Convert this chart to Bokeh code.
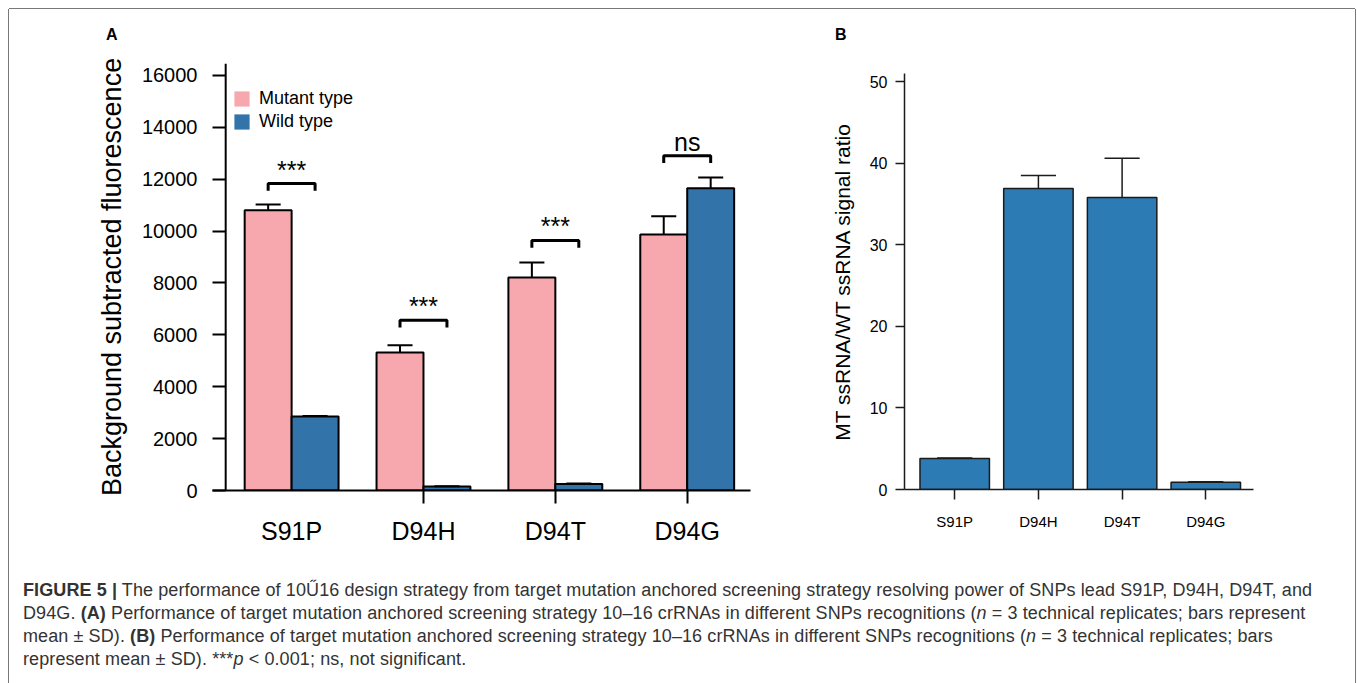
import numpy as np
from bokeh.plotting import figure
from bokeh.models import (Span, LinearAxis, FixedTicker, Range1d, Legend,
                          LegendItem, Div, ColumnDataSource, Spacer)
from bokeh.layouts import row, column
from bokeh.embed import file_html
from bokeh.resources import INLINE
from bokeh.core.properties import value

# ---------------- data ----------------
snps = ["S91P", "D94H", "D94T", "D94G"]
mutant_mean = [10800, 5320, 8210, 9870]
mutant_sd = [220, 280, 580, 700]
wild_mean = [2850, 150, 250, 11650]
wild_sd = [20, 15, 20, 420]
sig_labels = ["***", "***", "***", "ns"]
bracket_y = [11830, 6560, 9640, 12900]
a_yticks = [0, 2000, 4000, 6000, 8000, 10000, 12000, 14000, 16000]

ratio_mean = [3.8, 36.9, 35.8, 0.9]
ratio_sd = [0.06, 1.6, 4.8, 0.06]
b_yticks = [0, 10, 20, 30, 40, 50]

# ---------------- style ----------------
FONT = "Liberation Sans"
PINK = "#F6A8AE"
BLUE_A = "#3274A9"
BLUE_B = "#2C7BB5"

idx = np.arange(len(snps))
bw = 0.356
cap_a = 0.19
x_mt = idx - bw / 2
x_wt = idx + bw / 2

# ---------------- panel A ----------------
pA = figure(width=782, height=521, min_border_left=203, min_border_right=41,
            min_border_top=14, min_border_bottom=80, x_range=Range1d(-0.6, 3.48),
            y_range=Range1d(0, 16460), output_backend="svg", toolbar_location=None)
pA.xgrid.visible = False
pA.ygrid.visible = False
pA.outline_line_color = None

mt_hi = np.add(mutant_mean, mutant_sd)
wt_hi = np.add(wild_mean, wild_sd)
srcA = ColumnDataSource(dict(x_mt=x_mt, x_wt=x_wt, mt=mutant_mean, wt=wild_mean,
                             mt_hi=mt_hi, wt_hi=wt_hi,
                             mt_c0=x_mt - cap_a / 2, mt_c1=x_mt + cap_a / 2,
                             wt_c0=x_wt - cap_a / 2, wt_c1=x_wt + cap_a / 2))

# fill-only copies (legend swatches, hidden under the outlined bars)
r_mt = pA.vbar(x="x_mt", top="mt", bottom=0, width=bw, fill_color=PINK, line_color=None,
               source=srcA)
r_wt = pA.vbar(x="x_wt", top="wt", bottom=0, width=bw, fill_color=BLUE_A, line_color=None,
               source=srcA)
pA.vbar(x="x_mt", top="mt", bottom=0, width=bw, fill_color=PINK, line_color="black",
        line_width=2, source=srcA)
pA.vbar(x="x_wt", top="wt", bottom=0, width=bw, fill_color=BLUE_A, line_color="black",
        line_width=2, source=srcA)
for xc, lo, hi, c0, c1 in [("x_mt", "mt", "mt_hi", "mt_c0", "mt_c1"),
                           ("x_wt", "wt", "wt_hi", "wt_c0", "wt_c1")]:
    pA.segment(x0=xc, y0=lo, x1=xc, y1=hi, line_color="black", line_width=2, source=srcA)
    pA.segment(x0=c0, y0=hi, x1=c1, y1=hi, line_color="black", line_width=2, source=srcA)

tip = 280
bxs = [[a, a, b, b] for a, b in zip(x_mt, x_wt)]
bys = [[y - tip, y, y, y - tip] for y in bracket_y]
pA.multi_line(xs=bxs, ys=bys, line_color="black", line_width=3)
pA.text(x=idx, y=bracket_y, text=sig_labels, text_font=value(FONT), text_font_size="25px",
        text_align="center", text_baseline="alphabetic", y_offset=-14, text_color="black")

pA.add_layout(Span(location=-0.5, dimension="height", line_color="black", line_width=2))

legend = Legend(items=[LegendItem(label="Mutant type", renderers=[r_mt]),
                       LegendItem(label="Wild type", renderers=[r_wt])],
                location=(20, 358), glyph_width=19, glyph_height=19, label_standoff=8,
                spacing=2, padding=0, margin=0, border_line_color=None,
                background_fill_alpha=0, label_text_font=FONT, label_text_color="black",
                label_text_font_size="18px", label_height=19)
pA.add_layout(legend)

ya = pA.yaxis[0]
ya.ticker = FixedTicker(ticks=a_yticks)
ya.axis_line_color = None
ya.major_tick_in = 13
ya.major_tick_out = 0
ya.major_tick_line_width = 2
ya.major_tick_line_color = "black"
ya.minor_tick_line_color = None
ya.major_label_standoff = 15
ya.major_label_text_font = FONT
ya.major_label_text_font_size = "20px"
ya.major_label_text_color = "black"
ya.axis_label = "Background subtracted fluorescence"
ya.axis_label_text_font = FONT
ya.axis_label_text_font_size = "27px"
ya.axis_label_text_font_style = "normal"
ya.axis_label_text_color = "black"
ya.axis_label_standoff = 12

xa = pA.xaxis[0]
xa.ticker = FixedTicker(ticks=[1, 2, 3])
xa.axis_line_width = 2
xa.axis_line_color = "black"
xa.major_tick_out = 13
xa.major_tick_in = 0
xa.major_tick_line_width = 2
xa.major_tick_line_color = "black"
xa.minor_tick_line_color = None
xa.major_label_text_font_size = "1px"
xa.major_label_text_color = None
xa.major_label_standoff = 0

xa2 = LinearAxis(ticker=FixedTicker(ticks=[int(i) for i in idx]),
                 major_label_overrides={int(i): s for i, s in zip(idx, snps)},
                 axis_line_color=None, major_tick_line_color=None, minor_tick_line_color=None,
                 major_tick_in=0, major_tick_out=0, major_label_standoff=13,
                 major_label_text_font=FONT, major_label_text_font_size="25px",
                 major_label_text_color="black")
pA.add_layout(xa2, "below")

# ---------------- panel B ----------------
pB = figure(width=564, height=510, min_border_left=113, min_border_right=102,
            min_border_top=14, min_border_bottom=80, x_range=Range1d(-0.6, 3.57),
            y_range=Range1d(0, 51), output_backend="svg", toolbar_location=None)
pB.xgrid.visible = False
pB.ygrid.visible = False
pB.outline_line_color = None

bw_b = 0.83
cap_b = 0.42
r_hi = np.add(ratio_mean, ratio_sd)
srcB = ColumnDataSource(dict(x=idx, top=ratio_mean, hi=r_hi,
                             c0=idx - cap_b / 2, c1=idx + cap_b / 2))
pB.vbar(x="x", top="top", bottom=0, width=bw_b, fill_color=BLUE_B, line_color="#1b1b1b",
        line_width=1.5, source=srcB)
pB.segment(x0="x", y0="top", x1="x", y1="hi", line_color="#1b1b1b", line_width=1.5, source=srcB)
pB.segment(x0="c0", y0="hi", x1="c1", y1="hi", line_color="#1b1b1b", line_width=1.5, source=srcB)

yb = pB.yaxis[0]
yb.ticker = FixedTicker(ticks=b_yticks)
yb.axis_line_width = 1.5
yb.axis_line_color = "#1b1b1b"
yb.major_tick_out = 9
yb.major_tick_in = 0
yb.major_tick_line_width = 1.5
yb.major_tick_line_color = "#1b1b1b"
yb.minor_tick_line_color = None
yb.major_label_standoff = 8
yb.major_label_text_font = FONT
yb.major_label_text_font_size = "16px"
yb.major_label_text_color = "black"
yb.axis_label = "MT ssRNA/WT ssRNA signal ratio"
yb.axis_label_text_font = FONT
yb.axis_label_text_font_size = "21px"
yb.axis_label_text_font_style = "normal"
yb.axis_label_text_color = "black"
yb.axis_label_standoff = 13

xb = pB.xaxis[0]
xb.ticker = FixedTicker(ticks=[int(i) for i in idx])
xb.major_label_overrides = {int(i): s for i, s in zip(idx, snps)}
xb.axis_line_width = 1.5
xb.axis_line_color = "#1b1b1b"
xb.major_tick_out = 10
xb.major_tick_in = 0
xb.major_tick_line_width = 1.5
xb.major_tick_line_color = "#1b1b1b"
xb.minor_tick_line_color = None
xb.major_label_standoff = 13
xb.major_label_text_font = FONT
xb.major_label_text_font_size = "15px"
xb.major_label_text_color = "black"

# ---------------- panel letters ----------------
letters_html = (
    '<div style="position:relative;width:1346px;height:40px;font-family:\'Liberation Sans\','
    'sans-serif;font-weight:bold;font-size:16px;line-height:16px;color:#000;">'
    '<span style="position:absolute;left:97px;top:18px;">A</span>'
    '<span style="position:absolute;left:826px;top:18px;">B</span></div>')
letters = Div(text=letters_html, width=1346, height=40, margin=(0, 0, 0, 0))

# ---------------- caption ----------------
caption_lines = [
    "<b>FIGURE 5 |</b> The performance of 10\u017016 design strategy from target mutation anchored "
    "screening strategy resolving power of SNPs lead S91P, D94H, D94T, and",
    "D94G. <b>(A)</b> Performance of target mutation anchored screening strategy 10\u201316 crRNAs in "
    "different SNPs recognitions (<i>n</i> = 3 technical replicates; bars represent",
    "mean \u00b1 SD). <b>(B)</b> Performance of target mutation anchored screening strategy 10\u201316 "
    "crRNAs in different SNPs recognitions (<i>n</i> = 3 technical replicates; bars",
    "represent mean \u00b1 SD). ***<i>p</i> &lt; 0.001; ns, not significant.",
]
cap_html = ('<div style="font-family:\'Liberation Sans\',sans-serif;font-size:18px;'
            'letter-spacing:0.1px;line-height:23px;color:#333;padding:9px 0 0 14px;'
            'white-space:nowrap;">' + "<br>".join(caption_lines) + "</div>")
cap = Div(text=cap_html, width=1346, height=113, margin=(0, 0, 0, 0))

colB = column(Spacer(width=564, height=10), pB)
layout = column(letters, row(pA, colB), cap,
                styles={"margin-left": "9px", "margin-top": "9px",
                        "box-shadow": "-1px 0 0 0 #777, 1px 0 0 0 #777, 0 -1px 0 0 #777",
                        "background-color": "white"})

open("out.html", "w").write(file_html(layout, INLINE))
